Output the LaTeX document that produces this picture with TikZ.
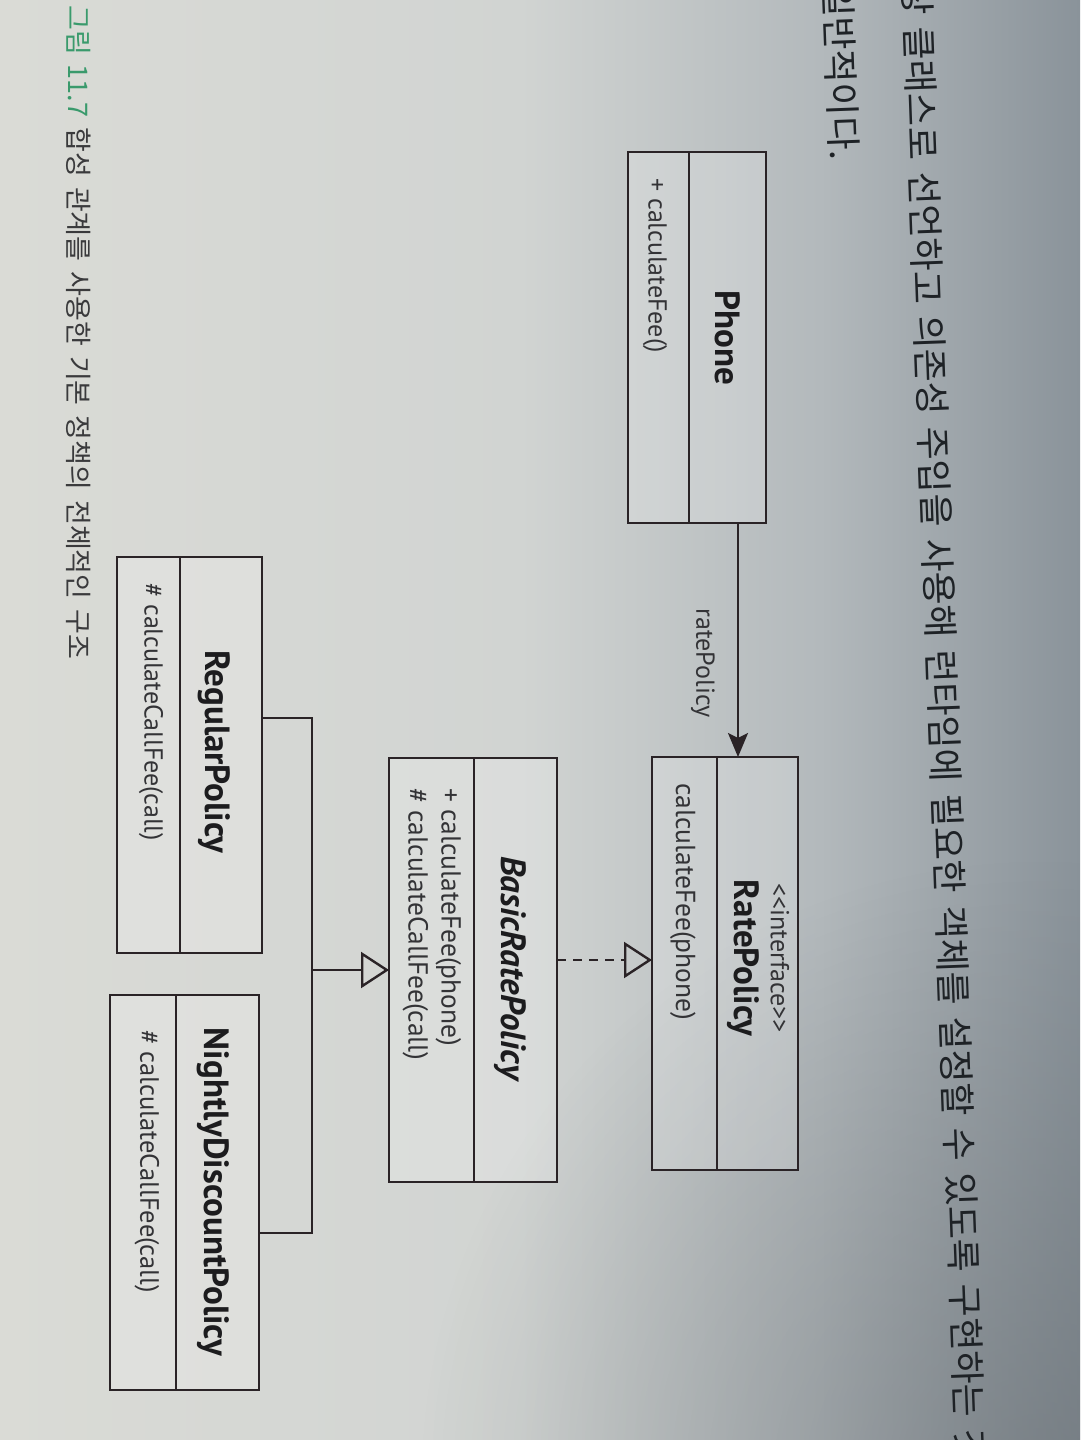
\documentclass[tikz,border=0pt]{standalone}
\usepackage{fontspec}
\setmainfont{PT Sans}
\newfontfamily\kr{Noto Sans CJK KR}
\usetikzlibrary{arrows.meta,fadings}
\definecolor{bgA}{HTML}{DADBD6}
\definecolor{bgA2}{HTML}{D1D4D2}
\definecolor{bgB}{HTML}{B3B9BC}
\definecolor{bgC}{HTML}{8A939A}
\definecolor{bgD}{HTML}{5E6469}
\definecolor{lc}{HTML}{2A2326}
\definecolor{tc}{HTML}{1C1C1E}
\definecolor{mc}{HTML}{333336}
\definecolor{capg}{HTML}{3A9A6C}
\definecolor{capt}{HTML}{3A3A3C}
\definecolor{krt}{HTML}{1E2226}
\tikzfading[name=softglow, inner color=transparent!0, outer color=transparent!100]
\newcommand\wsp[1]{\spaceskip=#1\relax}
\begin{document}
\begin{tikzpicture}[x=1pt,y=-1pt,
  classbox/.style={draw=lc, line width=2.4pt, fill=white, fill opacity=0.2, inner sep=0pt, outer sep=0pt},
  divline/.style={draw=lc, line width=2.2pt},
  cname/.style={rotate=-90, font=\fontsize{35}{40}\selectfont\bfseries, text=tc, inner sep=0pt},
  meth/.style={rotate=-90, font=\fontsize{26}{33}\selectfont, text=mc, inner sep=0pt, anchor=west, align=left},
  conn/.style={draw=lc, line width=2.4pt},
  assoc/.style={conn, -{Stealth[length=24pt, width=20pt, inset=5pt]}},
  gen/.style={conn, -{Triangle[open, length=28pt, width=36pt]}},
  realz/.style={conn, dash pattern=on 9pt off 7pt, -{Triangle[open, length=28pt, width=36pt]}},
  krline/.style={rotate=-87.9, anchor=west, inner sep=0pt, text=krt, font=\kr\fontsize{36}{40}\selectfont}
]
\useasboundingbox (0,0) rectangle (1080,1440);
\clip (0,0) rectangle (1080,1440);
% background
\shade[left color=bgA, right color=bgA2] (0,0) rectangle (520,1440);
\shade[left color=bgA2, right color=bgB] (520,0) rectangle (820,1440);
\shade[left color=bgB, right color=bgC] (820,0) rectangle (1080,1440);
\fill[bgD, opacity=0.45, path fading=softglow] (1040,1480) circle (620);

% top text
\node[krline] (t1) at (917,-18) {\wsp{12pt}상 클래스로 선언하고 의존성 주입을 사용해 런타임에 필요한 객체를 설정할 수 있도록 구현하는 것};
\node[krline] (t2) at (838,-16) {일반적이다.};

% caption
\node[rotate=-90, anchor=west, inner sep=0pt, font=\kr\fontsize{27}{30}\selectfont, text=capt] (cap) at (79,5)
  {\wsp{10pt}\textcolor{capg}{그림 11.7} 합성 관계를 사용한 기본 정책의 전체적인 구조};

% class boxes
\node[classbox, minimum width=138, minimum height=371] (phone) at (697,337.5) {};
\node[classbox, minimum width=146, minimum height=413] (rate) at (725,963.5) {};
\node[classbox, minimum width=168, minimum height=424] (basic) at (473,970) {};
\node[classbox, minimum width=145, minimum height=396] (reg) at (189.5,755) {};
\node[classbox, minimum width=149, minimum height=395] (night) at (184.5,1192.5) {};

% dividers
\draw[divline] (689,152) -- (689,523);
\draw[divline] (717,757) -- (717,1170);
\draw[divline] (474,758) -- (474,1182);
\draw[divline] (180,557) -- (180,953);
\draw[divline] (176,995) -- (176,1390);

% texts
\node[cname] (phoneN) at (728,338) {Phone};
\node[meth] (phoneM) at (655,178) {+ calculateFee()};

\node[rotate=-90, inner sep=0pt, font=\fontsize{26}{30}\selectfont, text=mc] (rateS) at (780,958) {<\kern0pt<interface>\kern0pt>};
\node[cname] (rateN) at (743,958) {RatePolicy};
\node[meth, font=\fontsize{27.5}{33}\selectfont] (rateM) at (683,783) {calculateFee(phone)};

\node[cname, font=\fontsize{35}{40}\selectfont\bfseries\itshape] (basicN) at (510,968) {BasicRatePolicy};
\node[meth, font=\fontsize{27.5}{33}\selectfont] (basicM) at (432,788) {+ calculateFee(phone)\\\# calculateCallFee(call)};

\node[cname] (regN) at (214,752) {RegularPolicy};
\node[meth] (regM) at (151,583) {\# calculateCallFee(call)};

\node[cname] (nightN) at (213,1192) {NightlyDiscountPolicy};
\node[meth, font=\fontsize{26.5}{33}\selectfont] (nightM) at (147,1030) {\# calculateCallFee(call)};

% association
\draw[assoc] ([xshift=41pt]phone.south) -- ([xshift=41pt]phone.south |- rate.north);
\node[rotate=-90, inner sep=0pt, font=\fontsize{26}{30}\selectfont, text=mc] (rpl) at (703,663) {ratePolicy};

% realization
\coordinate (rz) at (600,960);
\draw[realz] (basic.east |- rz) -- (rate.west |- rz);

% generalization
\coordinate (busT) at (312,718);
\coordinate (busB) at (312,1233);
\coordinate (busG) at (312,970);
\draw[conn] (reg.east |- busT) -- (busT) -- (busB) -- (night.east |- busB);
\draw[gen] (busG) -- (basic.west |- busG);
\end{tikzpicture}
\end{document}
